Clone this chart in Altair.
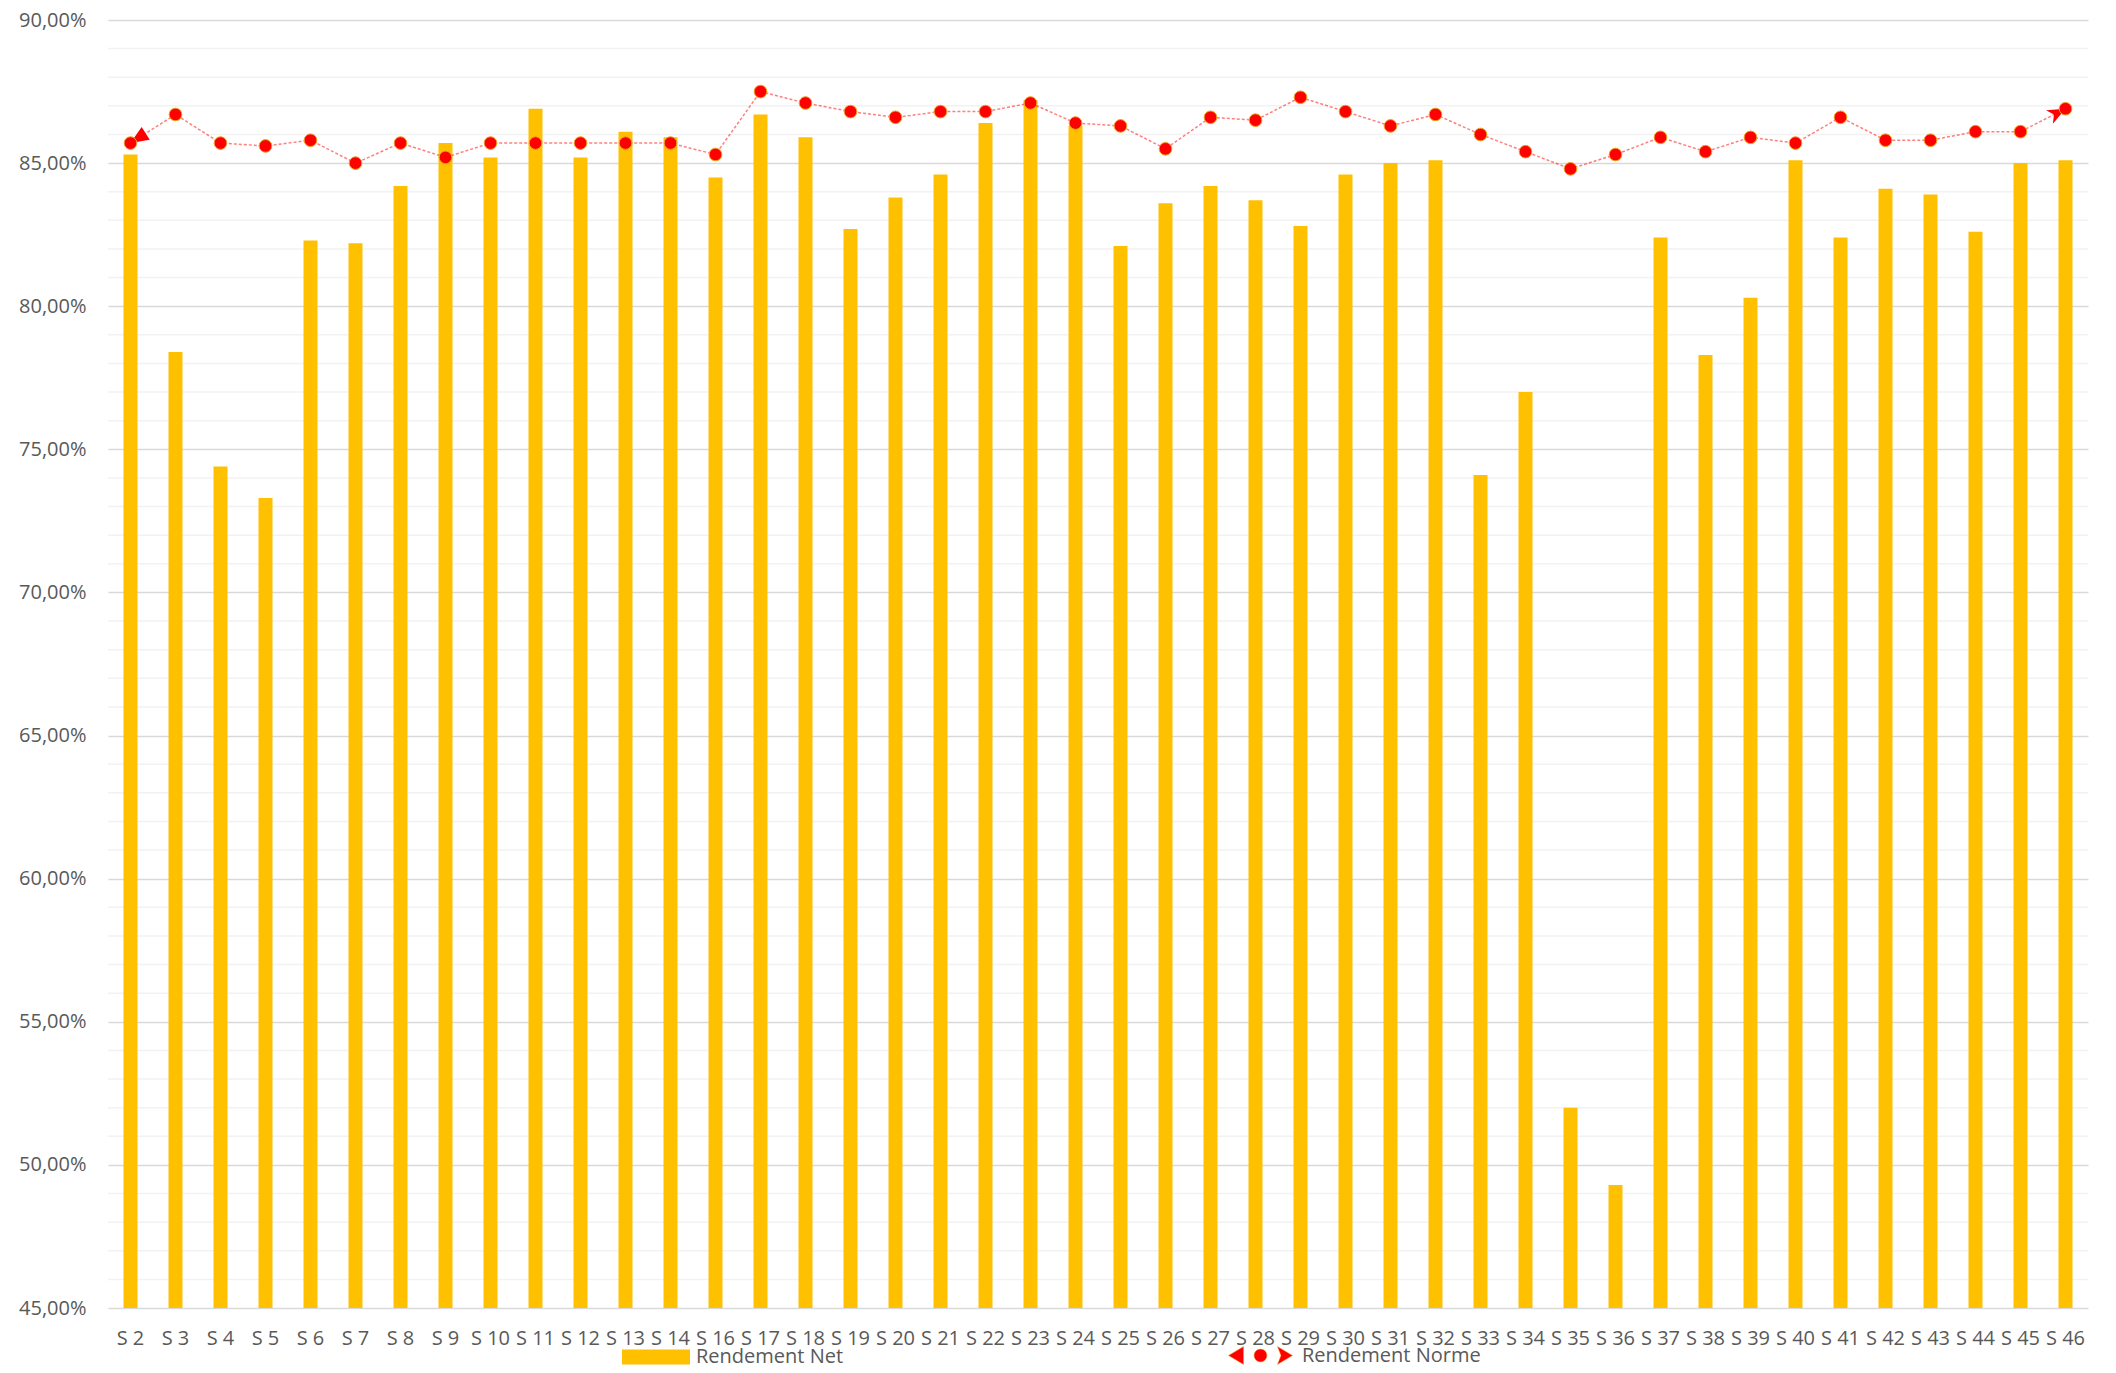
import math
import altair as alt
import pandas as pd

weeks = ["S 2", "S 3", "S 4", "S 5", "S 6", "S 7", "S 8", "S 9", "S 10", "S 11", "S 12", "S 13", "S 14",
         "S 16", "S 17", "S 18", "S 19", "S 20", "S 21", "S 22", "S 23", "S 24", "S 25", "S 26", "S 27",
         "S 28", "S 29", "S 30", "S 31", "S 32", "S 33", "S 34", "S 35", "S 36", "S 37", "S 38", "S 39",
         "S 40", "S 41", "S 42", "S 43", "S 44", "S 45", "S 46"]
rendement_net = [85.3, 78.4, 74.4, 73.3, 82.3, 82.2, 84.2, 85.7, 85.2, 86.9, 85.2, 86.1, 85.9,
                 84.5, 86.7, 85.9, 82.7, 83.8, 84.6, 86.4, 87.2, 86.3, 82.1, 83.6, 84.2,
                 83.7, 82.8, 84.6, 85.0, 85.1, 74.1, 77.0, 52.0, 49.3, 82.4, 78.3, 80.3,
                 85.1, 82.4, 84.1, 83.9, 82.6, 85.0, 85.1]
rendement_norme = [85.7, 86.7, 85.7, 85.6, 85.8, 85.0, 85.7, 85.2, 85.7, 85.7, 85.7, 85.7, 85.7,
                   85.3, 87.5, 87.1, 86.8, 86.6, 86.8, 86.8, 87.1, 86.4, 86.3, 85.5, 86.6,
                   86.5, 87.3, 86.8, 86.3, 86.7, 86.0, 85.4, 84.8, 85.3, 85.9, 85.4, 85.9,
                   85.7, 86.6, 85.8, 85.8, 86.1, 86.1, 86.9]
major_ticks = list(range(45, 91, 5))
minor_ticks = [v for v in range(45, 91) if v % 5 != 0]
Y_MIN, Y_MAX = 45, 90

W, H = 1980, 1288

df = pd.DataFrame({
    "week": weeks,
    "net": rendement_net,
    "norme": rendement_norme,
    "s_net": ["Rendement Net"] * len(weeks),
    "s_norme": ["Rendement Norme"] * len(weeks),
})
minor_df = pd.DataFrame({"v": minor_ticks})

# arrow heads at both ends of the "norme" line (Excel begin/end arrows),
# oriented along the first / last line segment
step = W / len(weeks)
ppu = H / (Y_MAX - Y_MIN)


def seg_angle(v_from, v_to, dx):
    a = math.degrees(math.atan2(-(v_to - v_from) * ppu, dx))
    return a % 360


arrow_df = pd.DataFrame({
    "week": [weeks[0], weeks[-1]],
    "norme": [rendement_norme[0], rendement_norme[-1]],
    "ang": [seg_angle(rendement_norme[1], rendement_norme[0], -step),
            seg_angle(rendement_norme[-2], rendement_norme[-1], step)],
    "kind": ["begin", "end"],
})

FONT = "Open Sans"
TXT = "#595959"

x_enc = alt.X("week:N", sort=weeks,
              scale=alt.Scale(paddingInner=0, paddingOuter=0),
              axis=alt.Axis(title=None, labelAngle=0, ticks=False, domain=False, grid=False,
                            labelFont=FONT, labelFontSize=20, labelColor=TXT,
                            labelPadding=20, labelOverlap=False, labelLimit=200))

y_scale = alt.Scale(domain=[Y_MIN, Y_MAX], nice=False, zero=False)

y_axis = alt.Axis(
    title=None, values=major_ticks, ticks=False, domain=False,
    labelExpr="replace(format(datum.value, '.2f'), '.', ',') + '%'",
    labelFont=FONT, labelFontSize=20, labelColor=TXT, labelPadding=22,
    labelOverlap=False, gridColor="#D9D9D9", gridWidth=1.5,
)

rect_path = "M-1,-0.22H1V0.22H-1Z"
norme_path = ("M-1,0L-0.53,-0.28L-0.53,0.28Z "
              "M0.2,0A0.2,0.2,0,1,1,-0.2,0A0.2,0.2,0,1,1,0.2,0Z "
              "M1,0L0.53,-0.28L0.64,0L0.53,0.28Z")
begin_arrow = "M0,0L-1,-0.42L-1,0.42Z"
end_arrow = "M0,0L-1,-0.42L-0.72,0L-1,0.42Z"

minor = alt.Chart(minor_df).mark_rule(color="#F2F2F2", strokeWidth=1.5).encode(
    y=alt.Y("v:Q", scale=y_scale, axis=y_axis),
)

bars = alt.Chart(df).mark_bar(size=14, clip=True).encode(
    x=x_enc,
    y=alt.Y("net:Q", scale=y_scale),
    color=alt.Color("s_net:N", scale=alt.Scale(domain=["Rendement Net"], range=["#FFC000"]),
                    legend=alt.Legend(orient="none", legendX=514, legendY=1303, title=None,
                                      symbolType=rect_path, symbolSize=4624, symbolStrokeWidth=0,
                                      labelFont=FONT, labelFontSize=20, labelColor=TXT,
                                      labelOffset=6, padding=0, labelLimit=400)),
)

line = alt.Chart(df).mark_line(color="#FF0000", opacity=0.5, strokeDash=[3, 2], strokeWidth=1.5).encode(
    x=alt.X("week:N", sort=weeks),
    y=alt.Y("norme:Q", scale=y_scale),
)

arrow_begin = alt.Chart(arrow_df[arrow_df["kind"] == "begin"]).mark_point(
    shape=begin_arrow, filled=True, color="#FF0000", size=1296, opacity=1, strokeWidth=0
).encode(
    x=alt.X("week:N", sort=weeks),
    y=alt.Y("norme:Q", scale=y_scale),
    angle=alt.Angle("ang:Q", scale=None),
)

arrow_end = alt.Chart(arrow_df[arrow_df["kind"] == "end"]).mark_point(
    shape=end_arrow, filled=True, color="#FF0000", size=1296, opacity=1, strokeWidth=0
).encode(
    x=alt.X("week:N", sort=weeks),
    y=alt.Y("norme:Q", scale=y_scale),
    angle=alt.Angle("ang:Q", scale=None),
)

points = alt.Chart(df).mark_point(filled=True, size=160, stroke="#F0A020", strokeWidth=1, opacity=1).encode(
    x=alt.X("week:N", sort=weeks),
    y=alt.Y("norme:Q", scale=y_scale),
    fill=alt.Fill("s_norme:N", scale=alt.Scale(domain=["Rendement Norme"], range=["#FF0000"]),
                  legend=alt.Legend(orient="none", legendX=1120, legendY=1303, title=None,
                                    symbolType=norme_path, symbolSize=4096,
                                    symbolStrokeColor="#F0A020", symbolStrokeWidth=0.5,
                                    labelFont=FONT, labelFontSize=20, labelColor=TXT,
                                    labelOffset=9, padding=0, labelLimit=400)),
)

chart = alt.layer(minor, bars, line, arrow_begin, arrow_end, points).resolve_scale(
    color="independent", fill="independent"
).properties(
    width=W, height=H,
    background="white",
    autosize=alt.AutoSizeParams(type="none"),
    padding={"left": 100, "top": 12, "right": 20, "bottom": 57},
).configure_view(strokeWidth=0, stroke="transparent")

chart.save("out.html", embed_options={"renderer": "svg", "actions": False})
